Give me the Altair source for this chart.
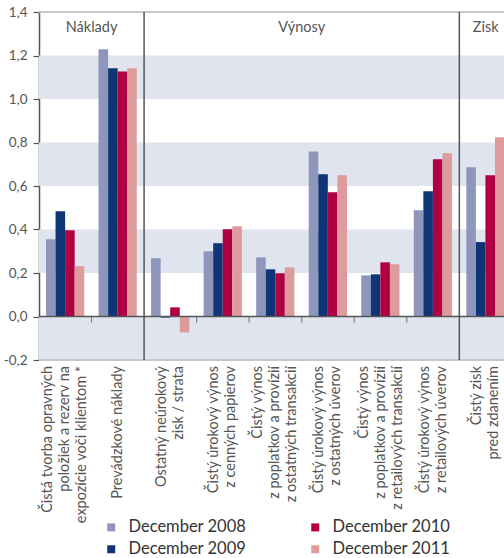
import altair as alt
import pandas as pd

# Bar groups (category labels are rotated, "\n" marks a line break)
categories = [
    "Čistá tvorba opravných\npoložiek a rezerv na\nexpozície voči klientom *",
    "Prevádzkové náklady",
    "Ostatný neúrokový\nzisk / strata",
    "Čistý úrokový výnos\nz cenných papierov",
    "Čistý výnos\nz poplatkov a provízií\nz ostatných transakcií",
    "Čistý úrokový výnos\nz ostatných úverov",
    "Čistý výnos\nz poplatkov a provízií\nz retailových transakcií",
    "Čistý úrokový výnos\nz retailových úverov",
    "Čistý zisk\npred zdanením",
]

series_names = ["December 2008", "December 2009", "December 2010", "December 2011"]
dec_2008 = [0.355, 1.229, 0.268, 0.300, 0.272, 0.759, 0.189, 0.488, 0.686]
dec_2009 = [0.484, 1.141, -0.005, 0.337, 0.217, 0.654, 0.194, 0.576, 0.342]
dec_2010 = [0.396, 1.127, 0.042, 0.401, 0.199, 0.571, 0.249, 0.723, 0.649]
dec_2011 = [0.231, 1.141, -0.073, 0.415, 0.226, 0.649, 0.240, 0.751, 0.824]
series_colors = ["#8f96bb", "#0f3577", "#b10042", "#de9b9c"]

# Section headers and the group boundaries that separate them
sections = ["Náklady", "Výnosy", "Zisk"]
section_centers = [1.0, 5.0, 8.5]
section_dividers = [2, 8]
group_ticks = [1, 3, 4, 5, 6, 7]

y_ticks = [-0.2, 0.0, 0.2, 0.4, 0.6, 0.8, 1.0, 1.2, 1.4]
band_starts = [-0.2, 0.2, 0.6, 1.0]

FONT = "Lato"
TEXT = "#555555"
AXIS = "#555555"
W, H = 465, 348
X_MAX = 8.85
LINE_STEP = 17 / (W / X_MAX)  # spacing of label lines, in group units

rows = []
for s, (name, vals) in enumerate(zip(series_names, [dec_2008, dec_2009, dec_2010, dec_2011])):
    for g, v in enumerate(vals):
        rows.append({"g": g, "s": s, "series": name, "value": v})
bar_df = pd.DataFrame(rows)

# one row per label line, so each line of a rotated label can be placed on its own
line_rows = []
for g, label in enumerate(categories):
    parts = label.split("\n")
    for i, part in enumerate(parts):
        line_rows.append({"g": g, "i": i, "n": len(parts), "line": part})
label_df = pd.DataFrame(line_rows)

band_df = pd.DataFrame({"lo": band_starts, "hi": [b + 0.2 for b in band_starts]})
section_df = pd.DataFrame({"c": section_centers, "name": sections})

x_scale = alt.Scale(domain=[0, X_MAX], nice=False, zero=False)
y_scale = alt.Scale(domain=[-0.2, 1.4], nice=False, zero=False)
y_axis = alt.Axis(
    values=y_ticks,
    labelExpr="(datum.value < 0 ? '-' : '') + replace(format(abs(datum.value), '.1f'), '.', ',')",
    grid=False, title=None,
    domainColor=AXIS, domainWidth=1.5,
    tickColor=AXIS, tickWidth=1.2, tickSize=6,
    labelPadding=6, labelFontSize=13.5, labelColor=TEXT, labelFont=FONT,
)

bands = alt.Chart(band_df).mark_rect(color="#dfe4ee").encode(
    x=alt.value(0), x2=alt.value(W),
    y=alt.Y("lo:Q", scale=y_scale, axis=y_axis), y2="hi:Q",
)

borders = alt.Chart(pd.DataFrame({"y": [-0.2, 1.4]})).mark_rule(
    color="#c8c8c8", strokeWidth=2
).encode(x=alt.value(0), x2=alt.value(W), y=alt.Y("y:Q", scale=y_scale, axis=y_axis))

bars = alt.Chart(bar_df).transform_calculate(
    x0="datum.g + 0.133 + datum.s * 0.182",
    x1="datum.g + 0.133 + (datum.s + 1) * 0.182",
).mark_bar(clip=True).encode(
    x=alt.X("x0:Q", scale=x_scale, axis=None),
    x2="x1:Q",
    y=alt.Y("value:Q", scale=y_scale, axis=y_axis),
    y2=alt.datum(0),
    color=alt.Color(
        "series:N",
        scale=alt.Scale(domain=series_names, range=series_colors),
        legend=alt.Legend(
            title=None, orient="none", legendX=64, legendY=507, columns=2,
            symbolType="square", symbolSize=64, symbolStrokeWidth=0,
            labelFont=FONT, labelFontSize=16.5, labelColor="#333333",
            labelOffset=9, columnPadding=60, rowPadding=5,
        ),
    ),
)

zero_line = alt.Chart(pd.DataFrame({"y": [0.0]})).mark_rule(
    color=AXIS, strokeWidth=1.5
).encode(x=alt.value(0), x2=alt.value(W), y=alt.Y("y:Q", scale=y_scale, axis=y_axis))

ticks = alt.Chart(pd.DataFrame({"x": group_ticks})).mark_tick(
    orient="vertical", size=6, thickness=1.2, color=AXIS, yOffset=3
).encode(x=alt.X("x:Q", scale=x_scale, axis=None), y=alt.Y(datum=0, scale=y_scale, axis=y_axis))

dividers = alt.Chart(pd.DataFrame({"x": section_dividers})).mark_rule(
    color=AXIS, strokeWidth=1.5
).encode(x=alt.X("x:Q", scale=x_scale, axis=None), y=alt.value(0), y2=alt.value(H))

section_text = alt.Chart(section_df).mark_text(
    font=FONT, fontSize=14.5, color=TEXT, baseline="middle"
).encode(x=alt.X("c:Q", scale=x_scale, axis=None), y=alt.value(16), text="name:N")

cat_text = alt.Chart(label_df).transform_calculate(
    lx=f"datum.g + 0.5 + (datum.i - (datum.n - 1) / 2) * {LINE_STEP}"
).mark_text(
    font=FONT, fontSize=14.5, color=TEXT,
    angle=270, align="right", baseline="middle",
).encode(x=alt.X("lx:Q", scale=x_scale, axis=None), y=alt.value(H + 6), text="line:N")

chart = alt.layer(
    bands, borders, bars, zero_line, ticks, dividers, section_text, cat_text
).properties(
    width=W, height=H,
    autosize=alt.AutoSizeParams(type="none"),
    padding={"left": 39, "top": 12, "right": 0, "bottom": 198},
).configure_view(stroke=None)

chart.save("out.html", embed_options={"renderer": "svg", "actions": False})
